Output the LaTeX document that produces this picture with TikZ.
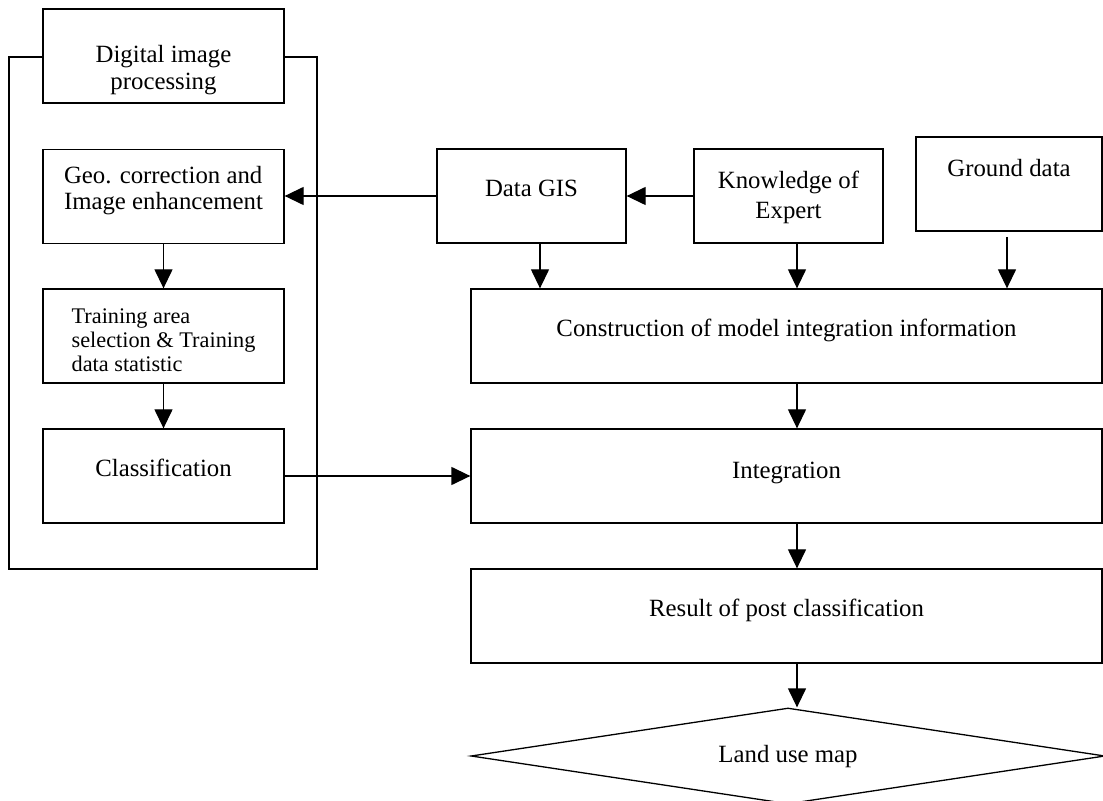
\documentclass[tikz,border=0pt]{standalone}
\usepackage{fontspec}
\setmainfont{Liberation Serif}
\usetikzlibrary{arrows.meta,shapes.geometric}
\newcommand\lines[2]{\begin{tabular}{@{}#1@{}}#2\end{tabular}}
\begin{document}
\begin{tikzpicture}[x=0.5pt,y=-0.5pt,
  line width=0.65pt,
  font=\fontsize{12.4pt}{13pt}\selectfont,
  tv/.style 2 args={text height=#1,text depth=#2},
  lbox/.style={draw,rectangle,inner sep=0pt,minimum width=120.5pt,minimum height=47pt},
  sbox/.style={draw,rectangle,inner sep=0pt,minimum width=94.5pt,minimum height=47pt},
  rbox/.style={draw,rectangle,inner sep=0pt,minimum width=315.5pt,minimum height=47pt},
  arr/.style={-{Triangle[length=9.5pt,width=9pt]}}]
\useasboundingbox (0,0) rectangle (1103,801);
\clip (0,0) rectangle (1103,801);
% left column
\node[draw,rectangle,inner sep=0pt,minimum width=154pt,minimum height=256pt] (frame) at (163,313) {};
\node[lbox,fill=white,tv={20.5pt}{0pt},font=\fontsize{12.4pt}{13.5pt}\selectfont] (dip) at (163.5,56) {\lines{c}{Digital image\\processing}};
\node[lbox,tv={0.5pt}{0pt}] (geo) at (163.5,196.5) {\lines{l}{Geo. correction and\\Image enhancement}};
\node[lbox,tv={12pt}{0pt},font=\fontsize{11.15pt}{12pt}\selectfont] (train) at (163.5,336) {\lines{l}{Training area\\selection \& Training\\data statistic}\hspace{8pt}};
\node[lbox,tv={1pt}{0pt}] (cls) at (163.5,476) {\lines{c}{Classification}};
% top row
\node[sbox,tv={1pt}{0pt}] (gis) at (531.5,196) {\lines{c}{Data GIS}};
\node[sbox,tv={8pt}{0pt},font=\fontsize{12.4pt}{15pt}\selectfont] (know) at (788.5,196) {\lines{c}{Knowledge of\\Expert}};
\node[draw,rectangle,inner sep=0pt,minimum width=93pt,minimum height=47pt,tv={0pt}{7pt}] (ground) at (1009,184) {\lines{c}{Ground data}};
% right column
\node[rbox,tv={1pt}{0pt}] (cons) at (786.5,336) {\lines{c}{Construction of model integration information}};
\node[rbox,tv={3pt}{0pt}] (integ) at (786.5,476) {\lines{c}{Integration}};
\node[rbox,tv={1pt}{0pt}] (res) at (786.5,616) {\lines{c}{Result of post classification}};
\node[draw,diamond,aspect=6.6,inner sep=0pt,minimum width=317pt,minimum height=48pt,tv={7pt}{0pt}] (land) at (788,756) {\lines{c}{Land use map}};
% helper coordinates
\coordinate (gx) at (540,0);
\coordinate (kx) at (797,0);
\coordinate (gs) at (1007,237);
% connectors
\draw[arr] (gis.west) -- (geo.east |- gis.west);
\draw[arr] (know.west) -- (gis.east);
\draw[arr] (geo.south) -- (train.north);
\draw[arr] (train.south) -- (cls.north);
\draw[arr] (cls.east) -- (integ.west);
\draw[arr] (gis.south -| gx) -- (cons.north -| gx);
\draw[arr] (know.south -| kx) -- (cons.north -| kx);
\draw[arr] (gs) -- (gs |- cons.north);
\draw[arr] (cons.south -| kx) -- (integ.north -| kx);
\draw[arr] (integ.south -| kx) -- (res.north -| kx);
\draw[arr] (res.south -| kx) -- (kx |- land.north);
\end{tikzpicture}
\end{document}
